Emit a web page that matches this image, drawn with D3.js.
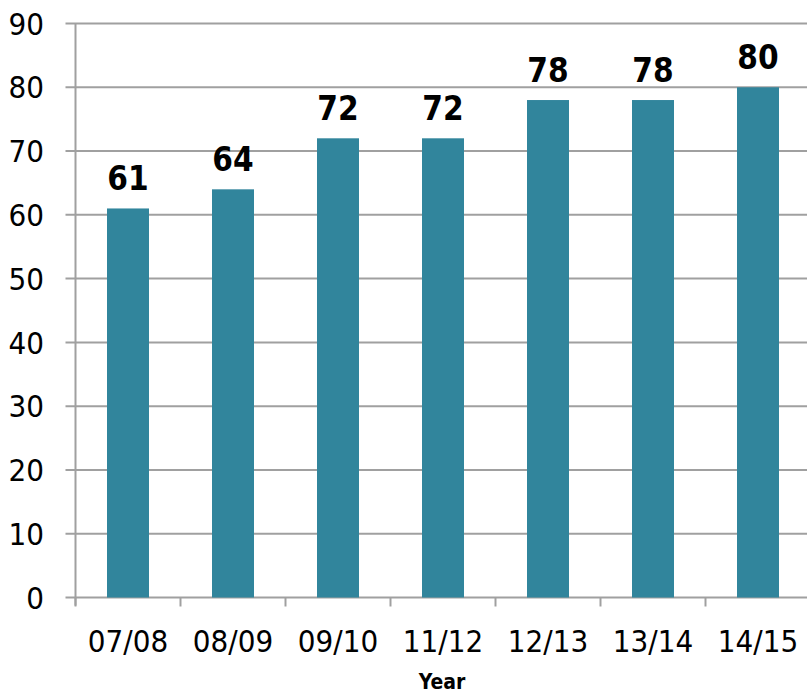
<!DOCTYPE html>
<html>
<head>
<meta charset="utf-8">
<script src="https://cdn.jsdelivr.net/npm/d3@7"></script>
<style>
  html, body { margin: 0; padding: 0; background: #fff; }
  svg { display: block; }
</style>
</head>
<body>
<div id="chart"></div>
<script>
//------------------------------------------------------------------------ Data
var years = ["07/08", "08/09", "09/10", "11/12", "12/13", "13/14", "14/15"];
var values = [61, 64, 72, 72, 78, 78, 80];
var yTicks = [0, 10, 20, 30, 40, 50, 60, 70, 80, 90];

//------------------------------------------------------------------------ Variables
var width = 807, height = 693;
var plot = {left: 75.5, right: 810.5, top: 23.5, bottom: 597.5};
var barColor = "#31859c";
var gridColor = "#a0a0a0";
var fontFam = "'DejaVu Sans Condensed', 'DejaVu Sans', sans-serif";

//create new svg
function newSvg(targetDOMobject, w, h){
  return d3.select(targetDOMobject)
    .append("svg")
    .attr("width", w)
    .attr("height", h);
}

var svg = newSvg("#chart", width, height);

var x = d3.scaleBand()
  .domain(years)
  .range([plot.left, plot.right])
  .paddingInner(0.6)
  .paddingOuter(0.3);

var y = d3.scaleLinear()
  .domain([0, 90])
  .range([plot.bottom, plot.top]);

//gridlines + y tick labels
svg.append("g").selectAll("line")
  .data(yTicks)
  .enter().append("line")
  .attr("x1", plot.left - 10)
  .attr("x2", plot.right)
  .attr("y1", function(d){ return y(d); })
  .attr("y2", function(d){ return y(d); })
  .attr("stroke", gridColor)
  .attr("stroke-width", 2);

svg.append("g").selectAll("text")
  .data(yTicks)
  .enter().append("text")
  .attr("x", 44)
  .attr("y", function(d){ return y(d); })
  .attr("dy", "0.36em")
  .attr("text-anchor", "end")
  .attr("font-family", fontFam)
  .attr("font-size", 31)
  .attr("fill", "#000")
  .text(function(d){ return d; });

//bars
svg.append("g").selectAll("rect")
  .data(values)
  .enter().append("rect")
  .attr("x", function(d, i){ return x(years[i]); })
  .attr("y", function(d){ return y(d); })
  .attr("width", x.bandwidth())
  .attr("height", function(d){ return y(0) - y(d); })
  .attr("fill", barColor);

//value labels
svg.append("g").selectAll("text")
  .data(values)
  .enter().append("text")
  .attr("x", function(d, i){ return x(years[i]) + x.bandwidth() / 2; })
  .attr("y", function(d){ return y(d) - 18; })
  .attr("text-anchor", "middle")
  .attr("font-family", fontFam)
  .attr("font-weight", "bold")
  .attr("font-size", 33)
  .attr("fill", "#000")
  .text(function(d){ return d; });

//y axis line
svg.append("line")
  .attr("x1", plot.left).attr("x2", plot.left)
  .attr("y1", plot.top).attr("y2", plot.bottom + 8)
  .attr("stroke", gridColor)
  .attr("stroke-width", 2);

//x axis ticks at category boundaries
var bounds = years.map(function(c){ return x(c) - x.step() * 0.3; });
bounds.push(plot.right);
svg.append("g").selectAll("line")
  .data(bounds)
  .enter().append("line")
  .attr("x1", function(d){ return d; })
  .attr("x2", function(d){ return d; })
  .attr("y1", plot.bottom)
  .attr("y2", plot.bottom + 9)
  .attr("stroke", gridColor)
  .attr("stroke-width", 2);

//x tick labels
svg.append("g").selectAll("text")
  .data(years)
  .enter().append("text")
  .attr("x", function(d){ return x(d) + x.bandwidth() / 2; })
  .attr("y", 652)
  .attr("text-anchor", "middle")
  .attr("font-family", fontFam)
  .attr("font-size", 31)
  .attr("fill", "#000")
  .text(function(d){ return d; });

//axis title
svg.append("text")
  .attr("x", 442)
  .attr("y", 689)
  .attr("text-anchor", "middle")
  .attr("font-family", fontFam)
  .attr("font-weight", "bold")
  .attr("font-size", 21)
  .attr("fill", "#000")
  .text("Year");
</script>
</body>
</html>
